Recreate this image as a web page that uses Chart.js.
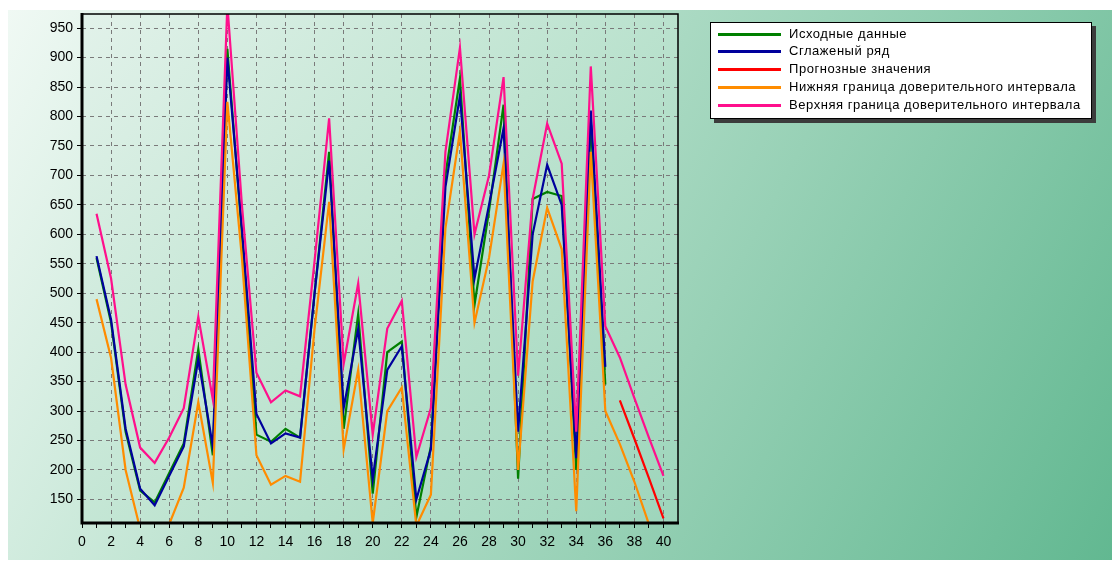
<!DOCTYPE html>
<html>
<head>
<meta charset="utf-8">
<script src="https://cdn.jsdelivr.net/npm/chart.js@4.4.1/dist/chart.umd.min.js"></script>
<style>
  html, body { margin:0; padding:0; background:#fff; }
  body { width:1119px; height:566px; position:relative; overflow:hidden; font-family:"Liberation Sans", Arial, sans-serif; }
  .panel {
    position:absolute; left:8px; top:10px; width:1104px; height:550px;
    background:linear-gradient(118deg, #f0f9f4 0%, #c4e6d5 30%, #98d1b6 62%, #62b891 100%);
  }
  #wrap { position:absolute; left:0; top:0; width:1119px; height:566px; }
  .legend {
    position:absolute; left:710px; top:22px; width:380px; height:95px;
    background:#fff; border:1px solid #000; box-shadow:4px 4px 0 #3c3c3c;
    font-size:13px; letter-spacing:0.55px; color:#000;
  }
  .legend div { position:absolute; left:0; height:18px; line-height:18px; white-space:nowrap; }
  .legend i { position:absolute; left:7px; top:8px; width:63px; height:3px; }
  .legend span { position:absolute; left:78px; top:0; }
</style>
</head>
<body>
<div class="panel"></div>
<div id="wrap"><canvas id="chart" width="1119" height="566"></canvas></div>
<div class="legend" id="legend"></div>

<script>
// ── Data ───────────────────────────────────────────────────
const xs = [1,2,3,4,5,6,7,8,9,10,11,12,13,14,15,16,17,18,19,20,21,22,23,24,25,26,27,28,29,30,31,32,33,34,35,36,37,38,39,40];

const original = [560,450,265,165,145,195,245,405,225,915,600,260,248,270,255,500,740,270,465,160,
                  400,418,120,240,700,865,480,640,820,185,660,672,665,200,790,345];
const smoothed = [563,455,270,168,140,190,240,388,240,900,610,295,245,262,255,500,725,305,440,185,
                  370,410,150,235,680,835,525,650,780,265,600,718,650,220,810,375];
const forecast = [null,null,null,null,null,null,null,null,null,null,null,null,null,null,null,null,null,null,null,null,
                  null,null,null,null,null,null,null,null,null,null,null,null,null,null,null,null,318,253,186,118];
const lower    = [490,390,200,100,75,108,170,315,178,825,560,225,175,190,180,440,655,235,370,110,
                  300,340,105,158,610,775,450,560,720,200,520,645,575,130,740,300,244,180,108,40];
const upper    = [635,525,345,238,212,255,305,460,320,990,650,365,315,335,325,555,797,380,517,260,
                  440,487,222,305,740,917,600,700,867,360,660,788,720,265,885,444,391,322,255,190];

const yTicks = [150,200,250,300,350,400,450,500,550,600,650,700,750,800,850,900,950];

const series = [
  { label:'Исходные данные',                         data:original, color:'#008000', order:5 },
  { label:'Сглаженый ряд',                           data:smoothed, color:'#00009c', order:4 },
  { label:'Прогнозные значения',                     data:forecast, color:'#ff0000', order:3 },
  { label:'Нижняя граница доверительного интервала', data:lower,    color:'#ff8c00', order:2 },
  { label:'Верхняя граница доверительного интервала',data:upper,    color:'#ff0f8c', order:1 },
];

// ── Legend (html) ──────────────────────────────────────────
const leg = document.getElementById('legend');
series.forEach((s, i) => {
  leg.innerHTML += `<div style="top:${1.5 + i*17.8}px;width:100%"><i style="background:${s.color}"></i><span>${s.label}</span></div>`;
});

// ── Plot background + frame ───────────────────────────────
const plotBg = {
  id:'plotBg',
  beforeDraw(chart) {
    const { ctx, chartArea:a } = chart;
    const g = ctx.createLinearGradient(a.left, a.top, a.right, a.bottom);
    g.addColorStop(0, '#e2f2ea');
    g.addColorStop(0.5, '#bfe4d1');
    g.addColorStop(1, '#9dd5bb');
    ctx.save();
    ctx.fillStyle = g;
    ctx.fillRect(a.left, a.top, a.right - a.left, a.bottom - a.top);
    ctx.restore();
  },
  afterDraw(chart) {
    const { ctx, chartArea:a } = chart;
    ctx.save();
    ctx.strokeStyle = '#000';
    ctx.lineWidth = 1.5;
    ctx.beginPath();
    ctx.moveTo(a.left, a.top); ctx.lineTo(a.right, a.top); ctx.lineTo(a.right, a.bottom);
    ctx.stroke();
    ctx.lineWidth = 3;
    ctx.beginPath();
    ctx.moveTo(a.left, a.top - 1); ctx.lineTo(a.left, a.bottom); ctx.lineTo(a.right + 1, a.bottom);
    ctx.stroke();
    ctx.restore();
  }
};

new Chart(document.getElementById('chart'), {
  type:'line',
  data:{
    labels: xs,
    datasets: series.map(s => ({
      label:s.label, data:s.data, borderColor:s.color, backgroundColor:s.color,
      borderWidth:2.2, pointRadius:0, tension:0, spanGaps:false, order:s.order
    }))
  },
  options:{
    responsive:false, animation:false,
    layout:{ padding:{ left:0, right:441, top:14, bottom:0 } },
    plugins:{ legend:{ display:false }, tooltip:{ enabled:false } },
    scales:{
      x:{
        type:'linear', min:0, max:41,
        afterBuildTicks: s => { s.ticks = []; for (let v = 0; v <= 40; v++) s.ticks.push({ value:v }); },
        afterFit: s => { s.height = 43; },
        ticks:{ color:'#000', font:{ family:'"Liberation Sans", Arial', size:14 }, padding:6, maxRotation:0, autoSkip:false,
                callback: v => v % 2 === 0 ? v : '' },
        grid:{ color: c => (c.tick && c.tick.value % 2 === 0 && c.tick.value > 0) ? '#7a7a7a' : 'rgba(0,0,0,0)',
               tickColor:'#000', tickLength:5, lineWidth:1, drawOnChartArea:true },
        border:{ display:false, dash:[4,4] }
      },
      y:{
        min:110, max:974,
        afterBuildTicks: s => { s.ticks = yTicks.map(v => ({ value:v })); },
        afterFit: s => { s.width = 82; },
        ticks:{ color:'#000', font:{ family:'"Liberation Sans", Arial', size:14 }, padding:4 },
        grid:{ color:'#7a7a7a', tickColor:'#000', tickLength:5, lineWidth:1 },
        border:{ display:false, dash:[4,4] }
      }
    }
  },
  plugins:[plotBg]
});
</script>
</body>
</html>
